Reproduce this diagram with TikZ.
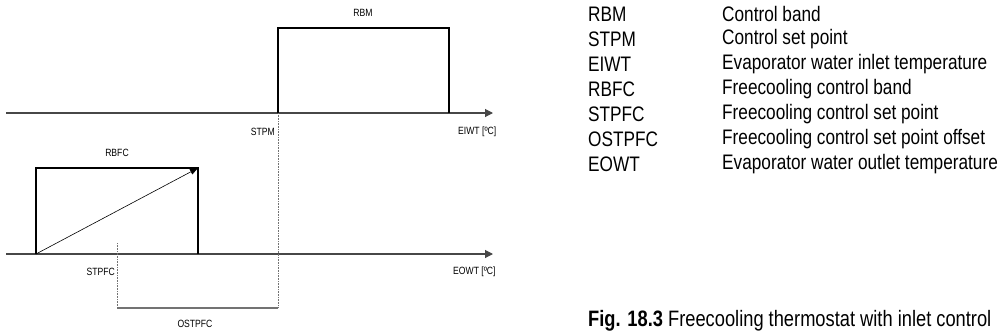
\documentclass[tikz,border=0pt]{standalone}
\usepackage{fontspec}
\setmainfont{Liberation Sans}[FakeStretch=0.82]
\usetikzlibrary{arrows.meta}
\begin{document}
\begin{tikzpicture}[x=1pt,y=-1pt,
 axisline/.style={draw=black!72, line width=1.1pt, -{Triangle[length=8pt,width=8pt]}},
 band/.style={draw=black, line width=2pt, line join=miter},
 guide/.style={draw=black!55, line width=0.6pt, dash pattern=on 0.8pt off 0.8pt},
 offs/.style={draw=black!55, line width=1.4pt},
 small/.style={font=\fontsize{10.5}{12}\selectfont, inner sep=0pt},
 leg/.style={font=\fontsize{21}{24}\selectfont, inner sep=0pt, anchor=west},
]
\useasboundingbox (0,0) rectangle (999,335);
% top axis
\coordinate (a1s) at (6,113);
\coordinate (a1e) at (493,113);
\draw[axisline] (a1s) -- (a1e);
% bottom axis
\coordinate (a2s) at (6,254);
\coordinate (a2e) at (493,254);
\draw[axisline] (a2s) -- (a2e);
% RBM band
\coordinate (m0) at (278,113);
\coordinate (m1) at (278,28);
\coordinate (m2) at (449,28);
\coordinate (m3) at (449,113);
\draw[band] (m0) -- (m1) -- (m2) -- (m3);
% RBFC band
\coordinate (f0) at (36,254);
\coordinate (f1) at (36,168);
\coordinate (f2) at (198,168);
\coordinate (f3) at (198,254);
\draw[band] (f0) -- (f1) -- (f2) -- (f3);
\draw[draw=black, line width=0.6pt, -{Triangle[length=8pt,width=6pt]}] (f0) -- (f2);
% guides
\coordinate (g1) at (278,308);
\coordinate (g2) at (117,243);
\coordinate (g3) at (117,308);
\draw[guide] (m0) -- (g1);
\draw[guide] (g2) -- (g3);
\draw[offs] (g3) -- (g1);
% diagram labels
\node[small] (lrbm) at (363,13) {RBM};
\node[small, anchor=east] (lstpm) at (275,132) {STPM};
\node[small, anchor=west] (leiwt) at (458,132) {EIWT [ºC]};
\node[small] (lrbfc) at (117,153) {RBFC};
\node[small, anchor=east] (lstpfc) at (115,272) {STPFC};
\node[small, anchor=west] (leowt) at (453,272) {EOWT [ºC]};
\node[small] (lostpfc) at (195,324) {OSTPFC};
% legend
\node[leg] (k1) at (588,14) {RBM};
\node[leg] (k2) at (588,39) {STPM};
\node[leg] (k3) at (588,64) {EIWT};
\node[leg] (k4) at (588,89) {RBFC};
\node[leg] (k5) at (588,114) {STPFC};
\node[leg] (k6) at (588,139) {OSTPFC};
\node[leg] (k7) at (588,164) {EOWT};
\node[leg] (d1) at (722,14) {Control band};
\node[leg] (d2) at (722,39) {Control set point};
\node[leg] (d3) at (722,64) {Evaporator water inlet temperature};
\node[leg] (d4) at (722,89) {Freecooling control band};
\node[leg] (d5) at (722,114) {Freecooling control set point};
\node[leg] (d6) at (722,139) {Freecooling control set point offset};
\node[leg] (d7) at (722,164) {Evaporator water outlet temperature};
% caption
\node[leg, font=\fontsize{22.3}{24}\selectfont] (cap) at (588,321) {\textbf{Fig. 18.3} Freecooling thermostat with inlet control};
\end{tikzpicture}
\end{document}
